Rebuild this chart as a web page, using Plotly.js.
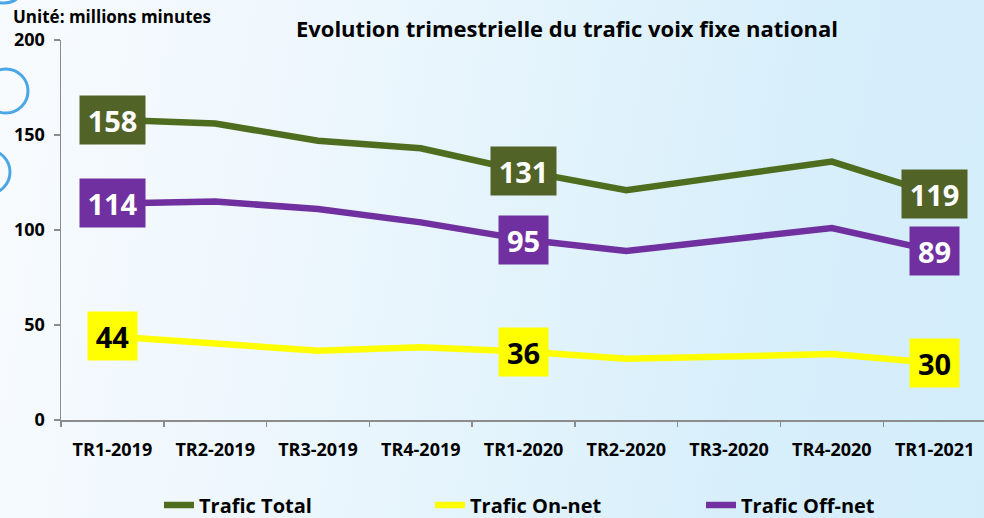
<!DOCTYPE html>
<html>
<head>
<meta charset="utf-8">
<script src="https://cdn.plot.ly/plotly-3.0.1.min.js"></script>
<style>
  html, body { margin: 0; padding: 0; }
  body { width: 984px; height: 518px; overflow: hidden;
    background: linear-gradient(100deg, #f8fbfe 0%, #eef7fd 30%, #e2f3fc 55%, #d8effb 75%, #d3edfa 100%); }
  #chart { width: 984px; height: 518px; }
</style>
</head>
<body>
<div id="chart"></div>
<script>
// ---- data ----
const categories = ['TR1-2019', 'TR2-2019', 'TR3-2019', 'TR4-2019', 'TR1-2020', 'TR2-2020', 'TR3-2020', 'TR4-2020', 'TR1-2021'];
const traficTotal = [158, 156, 147, 143, 131, 121, 128.5, 136, 119];
const traficOnNet = [44, 40.5, 36.5, 38.3, 36, 32.2, 33.4, 34.7, 30];
const traficOffNet = [114, 115, 111, 104, 95, 89, 95, 101, 89];
const labelIndices = [0, 4, 8];
const seriesNames = ['Trafic Total', 'Trafic On-net', 'Trafic Off-net'];
const yTickValues = [0, 50, 100, 150, 200];

// ---- style ----
const FONT = 'Open Sans, Noto Sans, sans-serif';
const lineColors = ['#4f6d1e', '#ffff00', '#7030a0'];
const boxColors = ['#526328', '#ffff00', '#7030a0'];
const textColors = ['#ffffff', '#000000', '#ffffff'];
const series = [traficTotal, traficOnNet, traficOffNet];

const W = 984, H = 518, ML = 61, MR = 0, MT = 40, MB = 98;
const plotW = W - ML - MR, plotH = H - MT - MB;
const px2x = px => (px - ML) / plotW;
const py2y = py => (H - MB - py) / plotH;

const traces = series.map((vals, i) => ({
  type: 'scatter', mode: 'lines', x: categories, y: vals, name: seriesNames[i],
  line: { color: lineColors[i], width: 6.5 }, hoverinfo: 'skip'
}));

const annotations = [];
series.forEach((vals, i) => {
  labelIndices.forEach(k => {
    const t = String(vals[k]);
    annotations.push({
      x: categories[k], y: vals[k], xref: 'x', yref: 'y', showarrow: false,
      text: '<b>' + t + '</b>', font: { family: FONT, size: 29, color: textColors[i] },
      bgcolor: boxColors[i], width: 17 + 16 * t.length, height: 48, borderpad: 0,
      xanchor: 'center', yanchor: 'middle', align: 'center', valign: 'middle'
    });
  });
});
annotations.push({
  xref: 'paper', yref: 'paper', x: px2x(11), y: py2y(17), xanchor: 'left', yanchor: 'middle',
  showarrow: false, text: '<b>Unité: millions minutes</b>',
  font: { family: FONT, size: 17, color: '#000' }
});

const circleColor = '#4ba6e6';
function circ(cx, cy, r) {
  return { type: 'circle', xref: 'paper', yref: 'paper',
    x0: px2x(cx - r), x1: px2x(cx + r), y0: py2y(cy + r), y1: py2y(cy - r),
    line: { color: circleColor, width: 3 }, fillcolor: 'rgba(0,0,0,0)', layer: 'below' };
}
const shapes = [circ(6, 91, 22), circ(-12, 172, 22), circ(4, -19, 22)];

const layout = {
  width: W, height: H,
  margin: { l: ML, r: MR, t: MT, b: MB, autoexpand: false },
  paper_bgcolor: 'rgba(0,0,0,0)', plot_bgcolor: 'rgba(0,0,0,0)',
  title: { text: '<b>Evolution trimestrielle du trafic voix fixe national</b>',
    font: { family: FONT, size: 22, color: '#000' },
    xref: 'container', yref: 'container', x: 567 / W, y: 1 - 29 / H, xanchor: 'center', yanchor: 'middle' },
  xaxis: {
    type: 'category', range: [-0.5, 8.48], showgrid: false, zeroline: false,
    showline: true, linecolor: '#8c8c8c', linewidth: 1.5,
    ticks: 'outside', tickson: 'boundaries', ticklen: 5, tickcolor: '#8c8c8c', tickwidth: 1.5,
    ticklabelstandoff: 13,
    tickfont: { family: FONT, size: 18, color: '#000', weight: 'bold' }
  },
  yaxis: {
    range: [0, 200], tickvals: yTickValues, showgrid: false, zeroline: false,
    showline: true, linecolor: '#8c8c8c', linewidth: 1.5,
    ticks: 'outside', ticklen: 6, tickcolor: '#8c8c8c', tickwidth: 1.5,
    ticklabelstandoff: 5,
    tickfont: { family: FONT, size: 18, color: '#000', weight: 'bold' }
  },
  showlegend: true,
  legend: {
    orientation: 'h', xref: 'paper', yref: 'paper', x: px2x(159), y: py2y(505),
    xanchor: 'left', yanchor: 'middle', bgcolor: 'rgba(0,0,0,0)',
    entrywidth: 226, entrywidthmode: 'pixels', itemwidth: 30,
    font: { family: FONT, size: 20, color: '#000', weight: 'bold' }
  },
  annotations: annotations,
  shapes: shapes
};

Plotly.newPlot('chart', traces, layout, { displayModeBar: false, staticPlot: true });
</script>
</body>
</html>
